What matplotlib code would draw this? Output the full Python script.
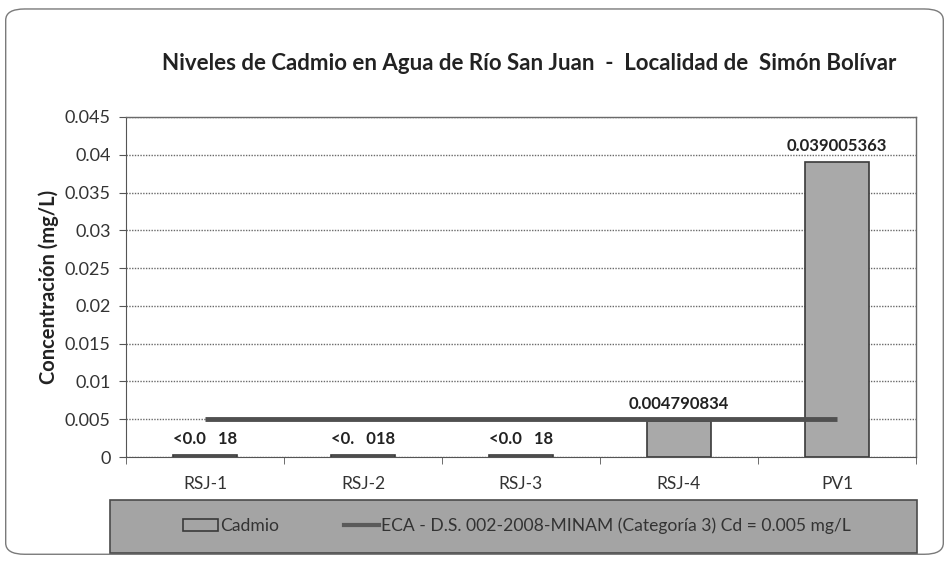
import matplotlib
matplotlib.use("Agg")
import matplotlib.pyplot as plt
from matplotlib.patches import FancyBboxPatch, Rectangle, Patch
from matplotlib.lines import Line2D

# data
estaciones = ["RSJ-1", "RSJ-2", "RSJ-3", "RSJ-4", "PV1"]
cadmio = [0.0002, 0.0002, 0.0002, 0.004790834, 0.039005363]
etiquetas = ["<0.0   18", "<0.   018", "<0.0   18", "0.004790834", "0.039005363"]
eca = [0.005, 0.005, 0.005, 0.005, 0.005]
yticks = [0, 0.005, 0.01, 0.015, 0.02, 0.025, 0.03, 0.035, 0.04, 0.045]
ytick_labels = ["0", "0.005", "0.01", "0.015", "0.02", "0.025", "0.03", "0.035", "0.04", "0.045"]

plt.rcParams["font.family"] = ["Lato", "DejaVu Sans"]

fig = plt.figure(figsize=(9.49, 5.61), dpi=100)
fig.patch.set_facecolor("white")

# rounded outer frame
frame = FancyBboxPatch((0.006, 0.012), 0.988, 0.972, boxstyle="round,pad=0,rounding_size=0.02",
                       transform=fig.transFigure, fill=False, edgecolor="#7a7a7a", lw=1.0)
fig.patches.append(frame)

ax = fig.add_axes([126 / 949, 1 - 457 / 561, 790 / 949, 340 / 561])
x = list(range(len(estaciones)))
ax.bar(x, cadmio, width=0.4, color="#a9a9a9", edgecolor="#3a3a3a", lw=1.2, zorder=3)
ax.plot(x, eca, color="#505050", lw=3.5, solid_capstyle="butt", zorder=4)

for xi, v, t in zip(x, cadmio, etiquetas):
    ax.annotate(t, (xi, v), xytext=(0, 6), textcoords="offset points", ha="center", va="bottom",
                fontsize=12, fontweight="bold", color="#222222", zorder=5)

ax.set_xlim(-0.5, 4.5)
ax.set_ylim(0, 0.045)
ax.set_yticks(yticks)
ax.set_yticklabels(ytick_labels, fontsize=13, color="#333333")
ax.set_xticks(x)
ax.set_xticklabels(estaciones, fontsize=12.5, color="#333333")
ax.set_xticks([i + 0.5 for i in range(-1, 5)], minor=True)
ax.tick_params(axis="x", which="major", length=0, pad=14)
ax.tick_params(axis="x", which="minor", length=5, color="#555555", direction="out")
ax.tick_params(axis="y", length=5, color="#555555", pad=6)
ax.grid(axis="y", color="#6a6a6a", lw=1.0, ls=(0, (1, 1)), zorder=0)
for s in ["top", "right"]:
    ax.spines[s].set_color("#6a6a6a")
    ax.spines[s].set_linewidth(1.0)
ax.spines["left"].set_color("#555555")
ax.spines["bottom"].set_color("#555555")
ax.set_ylabel("Concentración (mg/L)", fontsize=14.5, fontweight="bold", color="#222222", labelpad=4)

fig.text(0.558, 1 - 63 / 561, "Niveles de Cadmio en Agua de Río San Juan  -  Localidad de  Simón Bolívar",
         ha="center", va="center", fontsize=16, fontweight="bold", color="#222222")

# legend box
leg_box = Rectangle((110 / 949, 1 - 553 / 561), 807 / 949, 53 / 561, transform=fig.transFigure,
                    facecolor="#a4a4a4", edgecolor="#4a4a4a", lw=1.2)
fig.patches.append(leg_box)
handles = [Patch(facecolor="#a4a4a4", edgecolor="#3a3a3a", lw=1.2),
           Line2D([], [], color="#5a5a5a", lw=3)]
fig.legend(handles, ["Cadmio", "ECA - D.S. 002-2008-MINAM (Categoría 3) Cd = 0.005 mg/L"],
           loc="center", bbox_to_anchor=(517 / 949, 1 - 526 / 561), ncol=2, frameon=False,
           fontsize=12.6, columnspacing=3.7, handlelength=2.0, handletextpad=0.1,
           labelcolor="#333333")

fig.savefig("out.png", dpi=100)
